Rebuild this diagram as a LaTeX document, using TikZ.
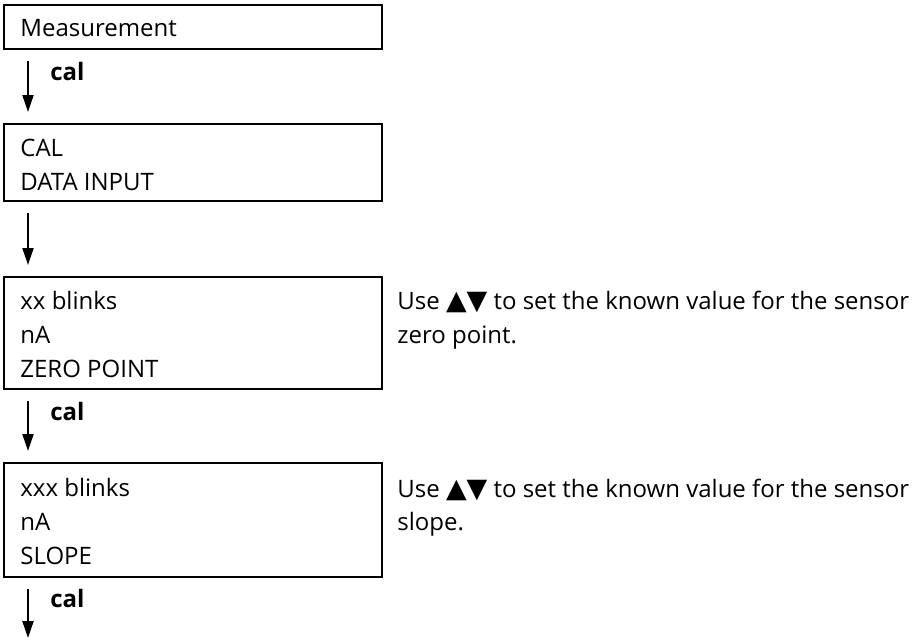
\documentclass[tikz,border=0pt]{standalone}
\usepackage{fontspec}
\setmainfont{Open Sans}
\newfontfamily\sym[Scale=1.12]{DejaVu Sans}
\usetikzlibrary{arrows.meta,calc}
\begin{document}
\begin{tikzpicture}[x=0.5pt,y=-0.5pt,
  box/.style={draw,line width=1.1pt,anchor=north west,minimum width=189pt,inner sep=0pt,outer sep=0pt},
  txt/.style={anchor=base west,inner sep=0pt,font=\fontsize{12}{17}\selectfont},
  lbl/.style={anchor=base west,inner sep=0pt,font=\fontsize{12}{17}\selectfont\bfseries},
  arr/.style={line width=1pt,-{Triangle[length=8.5pt,width=5.5pt]}}]
\useasboundingbox (0,0) rectangle (917,639);
% boxes
\node[box,minimum height=22pt] (m) at (4,5) {};
\node[box,minimum height=38.5pt] (c) at (4,124) {};
\node[box,minimum height=56pt] (z) at (4,277) {};
\node[box,minimum height=57pt] (s) at (4,463) {};
% box texts
\node[txt] (m1) at ($(m.north west)+(16,31)$) {Measurement};
\node[txt] (c1) at ($(c.north west)+(16,32)$) {CAL};
\node[txt] (c2) at ($(c.north west)+(16,66)$) {DATA INPUT};
\node[txt] (z1) at ($(z.north west)+(16,32)$) {xx blinks};
\node[txt] (z2) at ($(z.north west)+(16,66)$) {nA};
\node[txt] (z3) at ($(z.north west)+(16,100)$) {ZERO POINT};
\node[txt] (s1) at ($(s.north west)+(16,33)$) {xxx blinks};
\node[txt] (s2) at ($(s.north west)+(16,67)$) {nA};
\node[txt] (s3) at ($(s.north west)+(16,101)$) {SLOPE};
% side notes
\node[txt] (zn1) at (397,309) {Use {\sym ▲▼} to set the known value for the sensor};
\node[txt] (zn2) at (397,343) {zero point.};
\node[txt] (sn1) at (397,497) {Use {\sym ▲▼} to set the known value for the sensor};
\node[txt] (sn2) at (397,530) {slope.};
% arrows
\coordinate (end) at ($(s.south west)+(24,61)$);
\draw[arr] ($(m.south west)+(24,12)$) -- ($(c.north west)+(24,-12)$);
\draw[arr] ($(c.south west)+(24,12)$) -- ($(z.north west)+(24,-12)$);
\draw[arr] ($(z.south west)+(24,12)$) -- ($(s.north west)+(24,-12)$);
\draw[arr] ($(s.south west)+(24,12)$) -- (end);
% labels
\node[lbl] (l1) at ($(m.south west)+(46,31)$) {cal};
\node[lbl] (l3) at ($(z.south west)+(46,31)$) {cal};
\node[lbl] (l4) at ($(s.south west)+(46,30)$) {cal};
\end{tikzpicture}
\end{document}
